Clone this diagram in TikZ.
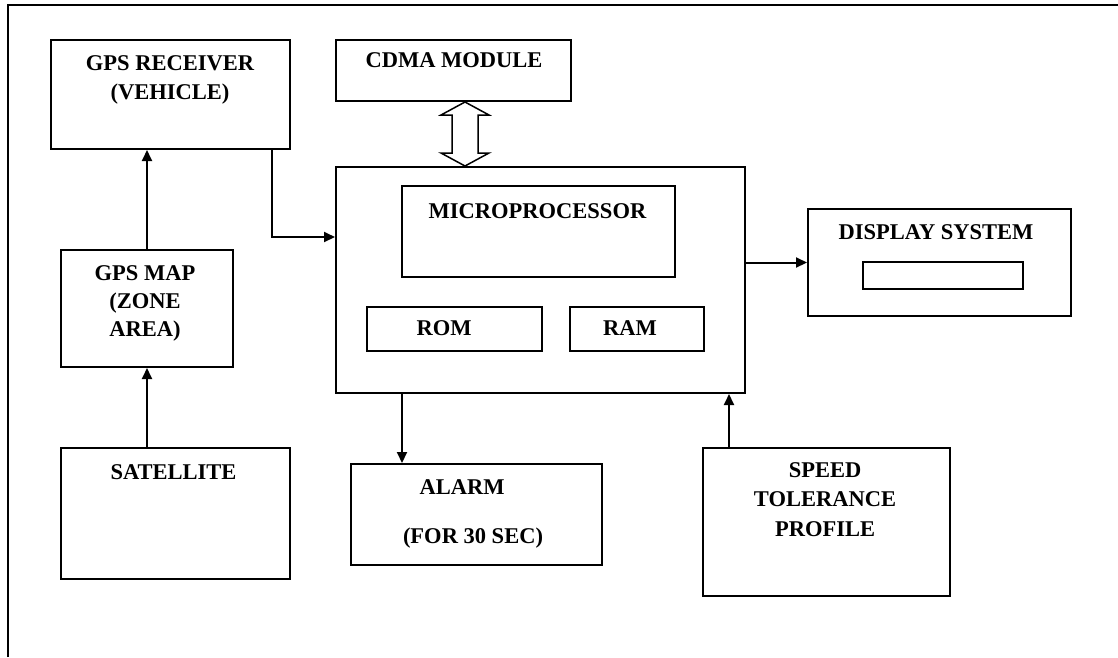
\documentclass[tikz,border=0pt]{standalone}
\usepackage{fontspec}
\setmainfont{Liberation Serif}
\usetikzlibrary{arrows.meta,calc}
\begin{document}
\begin{tikzpicture}[x=1pt,y=-1pt,
  box/.style={draw,line width=2pt,inner sep=0pt},
  lbl/.style={font=\fontsize{22.5}{29}\selectfont\bfseries,align=center,anchor=base,inner sep=0pt},
  arr/.style={line width=2pt,-{Triangle[length=11pt,width=10pt]}},
]
\useasboundingbox (0,0) rectangle (1118,657);
% outer frame (only top and left visible)
\draw[line width=2.4pt] (8,657) -- (8,5) -- (1118,5);

% boxes
\node[box,minimum width=239,minimum height=109] (gpsrx) at (170.5,94.5) {};
\node[box,minimum width=235,minimum height=61] (cdma) at (453.5,70.5) {};
\node[box,minimum width=409,minimum height=226] (proc) at (540.5,280) {};
\node[box,minimum width=273,minimum height=91] (micro) at (538.5,231.5) {};
\node[box,minimum width=175,minimum height=44] (rom) at (454.5,329) {};
\node[box,minimum width=134,minimum height=44] (ram) at (637,329) {};
\node[box,minimum width=263,minimum height=107] (disp) at (939.5,262.5) {};
\node[box,minimum width=160,minimum height=27] (screen) at (943,275.5) {};
\node[box,minimum width=172,minimum height=117] (gpsmap) at (147,308.5) {};
\node[box,minimum width=229,minimum height=131] (sat) at (175.5,513.5) {};
\node[box,minimum width=251,minimum height=101] (alarm) at (476.5,514.5) {};
\node[box,minimum width=247,minimum height=148] (speed) at (826.5,522) {};

% labels (base anchor = baseline of the last line)
\node[lbl] (t-gpsrx) at (170,99) {GPS RECEIVER\\(VEHICLE)};
\node[lbl] (t-cdma) at (454,67) {CDMA MODULE};
\node[lbl] (t-micro) at (537.5,218) {MICROPROCESSOR};
\node[lbl] (t-rom) at (444,335) {ROM};
\node[lbl] (t-ram) at (630,335) {RAM};
\node[lbl] (t-disp) at (936,239) {DISPLAY SYSTEM};
\node[lbl,font=\fontsize{22.5}{28}\selectfont\bfseries] (t-map) at (145,336) {GPS MAP\\(ZONE\\AREA)};
\node[lbl] (t-sat) at (173.5,479) {SATELLITE};
\node[lbl] (t-alarm) at (462,494) {ALARM};
\node[lbl] (t-alarm2) at (473,543) {(FOR 30 SEC)};
\node[lbl,font=\fontsize{22.5}{29.5}\selectfont\bfseries] (t-speed) at (825,536) {SPEED\\TOLERANCE\\PROFILE};

% connectors
\draw[arr] (sat.north -| gpsmap.south) -- (gpsmap.south);
\draw[arr] (gpsmap.north) -- (gpsmap.north |- gpsrx.south);
\coordinate (bend) at (272,237);
\draw[arr] (gpsrx.south -| bend) -- (bend) -- (bend -| proc.west);
\draw[arr] (proc.east |- disp.west) -- (disp.west);
\coordinate (ax) at (402,0);
\draw[arr] (proc.south -| ax) -- (alarm.north -| ax);
\coordinate (sx) at (729,0);
\draw[arr] (speed.north -| sx) -- (proc.south -| sx);

% hollow double arrow between CDMA module and processor box
\coordinate (dx) at (465,0);
\coordinate (dt) at (cdma.south -| dx);
\coordinate (db) at (proc.north -| dx);
\draw[line width=1.5pt,line join=miter,fill=white]
  (dt) -- ++(24,13) -- ++(-11,0) -- ($(db)+(13,-13)$) -- ++(11,0) -- (db)
  -- ++(-24,-13) -- ++(11,0) -- ($(dt)+(-13,13)$) -- ++(-11,0) -- cycle;
\end{tikzpicture}
\end{document}
